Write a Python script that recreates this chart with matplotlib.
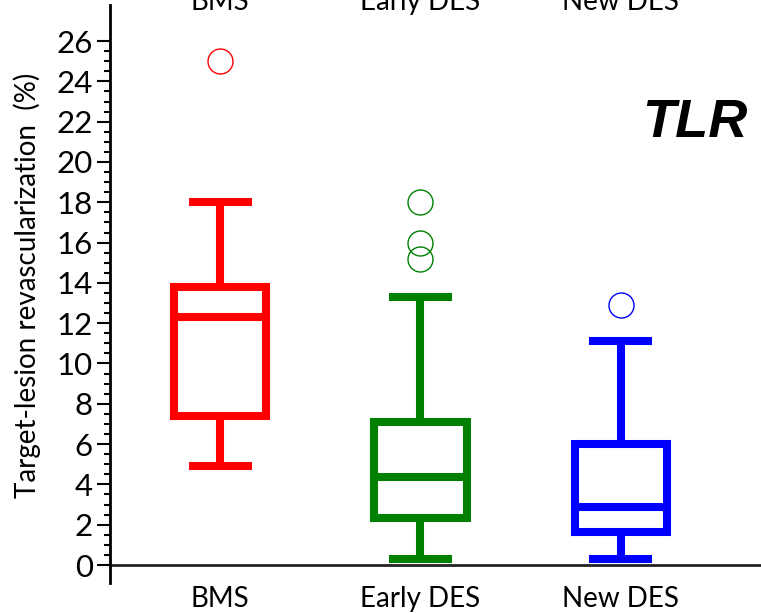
import numpy as np
import matplotlib
matplotlib.use("Agg")
import matplotlib.pyplot as plt
from matplotlib.transforms import blended_transform_factory

# box statistics (percent)
groups = ['BMS', 'Early DES', 'New DES']
colors = ['#FF0000', '#008000', '#0000FF']
whis_low = [4.9, 0.3, 0.3]
q1 = [7.4, 2.35, 1.65]
medians = [12.3, 4.35, 2.9]
q3 = [13.8, 7.1, 6.0]
whis_high = [18.0, 13.3, 11.1]
outliers = [[25.0], [18.0, 16.0, 15.2], [12.9]]

plt.rcParams['font.family'] = ['Lato', 'DejaVu Sans']

fig = plt.figure(figsize=(7.61, 6.13), dpi=100)
ax = fig.add_axes([110 / 761, 1 - 583 / 613, 1 - 110 / 761, (583 - 5) / 613])

positions = np.arange(1, len(groups) + 1)
for i, g in enumerate(groups):
    st = [{'label': g, 'whislo': whis_low[i], 'q1': q1[i], 'med': medians[i],
           'q3': q3[i], 'whishi': whis_high[i], 'fliers': outliers[i]}]
    lw = 5.8
    ax.bxp(st, positions=[positions[i]], widths=0.46, capwidths=0.275,
           boxprops=dict(color=colors[i], linewidth=lw, solid_joinstyle='miter'),
           medianprops=dict(color=colors[i], linewidth=lw, solid_capstyle='butt'),
           whiskerprops=dict(color=colors[i], linewidth=lw, solid_capstyle='butt'),
           capprops=dict(color=colors[i], linewidth=lw, solid_capstyle='projecting'),
           flierprops=dict(marker='o', markersize=18, markerfacecolor='none',
                           markeredgecolor=colors[i], markeredgewidth=1.0),
           manage_ticks=False)

ax.set_xlim(0.45, 3.7)
ax.set_ylim(-0.893, 27.79)

ax.spines['top'].set_visible(False)
ax.spines['right'].set_visible(False)
ax.spines['bottom'].set_visible(False)
ax.spines['left'].set_linewidth(2)
ax.axhline(0, color='#222222', linewidth=2, zorder=1)

ax.set_xticks([])
ax.set_yticks(np.arange(0, 27, 2))
ax.set_yticks([v for v in np.arange(0.5, 26, 0.5) if v % 2 != 0], minor=True)
ax.tick_params(axis='y', which='major', length=9.5, width=1.5, labelsize=22.5, pad=3)
ax.tick_params(axis='y', which='minor', length=4.5, width=1.5)

trans = blended_transform_factory(ax.transData, fig.transFigure)
for i, g in enumerate(groups):
    ax.text(positions[i], 1 - 607 / 613, g, transform=trans, ha='center',
            va='baseline', fontsize=20)
    # the top row of names is cut off by the figure edge, as in the source
    ax.text(positions[i], 1 - 10 / 613, g, transform=trans, ha='center',
            va='baseline', fontsize=20, clip_on=False)

fig.text(27 / 761, 1 - 285 / 613, 'Target-lesion revascularization  (%)',
         rotation=90, ha='center', va='center', fontsize=20)

fig.text(748 / 761, 1 - 137 / 613, 'TLR', ha='right', va='baseline',
         fontsize=39, fontweight='bold', fontstyle='italic',
         family=['Liberation Sans', 'DejaVu Sans'])

fig.savefig('out.png', dpi=100)
